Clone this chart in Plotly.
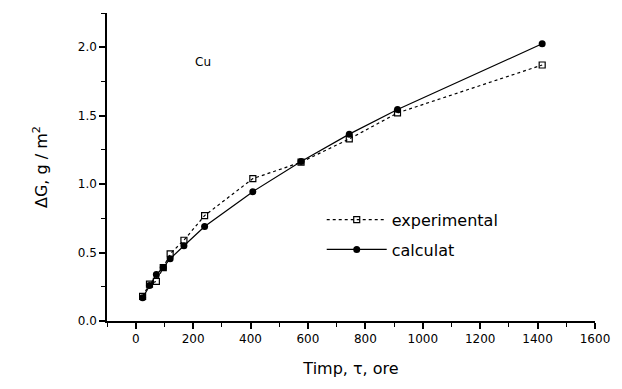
import plotly.graph_objects as go

hours = [24, 48, 72, 96, 120, 168, 240, 408, 576, 744, 912, 1416]
experimental = [0.18, 0.27, 0.29, 0.39, 0.49, 0.59, 0.77, 1.04, 1.16, 1.33, 1.52, 1.87]
calculat = [0.17, 0.26, 0.34, 0.39, 0.455, 0.55, 0.69, 0.945, 1.165, 1.365, 1.545, 2.025]

x_ticks = [0, 200, 400, 600, 800, 1000, 1200, 1400, 1600]
y_ticks = [0.0, 0.5, 1.0, 1.5, 2.0]
y_tick_labels = ["0.0", "0.5", "1.0", "1.5", "2.0"]

font = "DejaVu Sans, Arial, sans-serif"

fig = go.Figure()
fig.add_trace(go.Scatter(
    x=hours, y=experimental, name="experimental", mode="lines+markers",
    legendgroup="a",
    line=dict(color="black", width=1.2, dash="dot"),
    marker=dict(symbol="square-open", size=6, color="black", line=dict(width=1.2)),
))
fig.add_trace(go.Scatter(
    x=hours, y=calculat, name="calculat", mode="lines+markers",
    legendgroup="b",
    line=dict(color="black", width=1.2),
    marker=dict(symbol="circle", size=7, color="black"),
))

fig.add_annotation(x=236, y=1.89, text="Cu", showarrow=False,
                   font=dict(family=font, size=12, color="black"))

fig.update_layout(
    width=622, height=389,
    margin=dict(l=107, r=18, t=13, b=68),
    paper_bgcolor="white", plot_bgcolor="white",
    font=dict(family=font, size=12, color="black"),
    showlegend=True,
    legend=dict(x=0.44, y=0.28, xanchor="left", yanchor="middle",
                bgcolor="rgba(0,0,0,0)", itemwidth=60,
                font=dict(family=font, size=16, color="black"),
                traceorder="grouped", tracegroupgap=6),
    xaxis=dict(range=[-100, 1600], tickvals=x_ticks, showgrid=False, zeroline=False,
               showline=True, linecolor="black", linewidth=1.5,
               ticks="outside", ticklen=6, tickwidth=1.5, tickcolor="black",
               minor=dict(dtick=100, tick0=0, ticks="outside", ticklen=4, tickwidth=1.2, tickcolor="black"),
               tickfont=dict(size=12),
               title=dict(text="Timp, τ, ore", font=dict(size=16), standoff=18)),
    yaxis=dict(range=[0, 2.25], tickvals=y_ticks, ticktext=y_tick_labels,
               showgrid=False, zeroline=False,
               showline=True, linecolor="black", linewidth=1.5,
               ticks="outside", ticklen=6, tickwidth=1.5, tickcolor="black",
               minor=dict(dtick=0.25, tick0=0, ticks="outside", ticklen=4, tickwidth=1.2, tickcolor="black"),
               tickfont=dict(size=12),
               title=dict(text="ΔG, g / m<sup>2</sup>", font=dict(size=16), standoff=26)),
)

fig.write_html("out.html")
